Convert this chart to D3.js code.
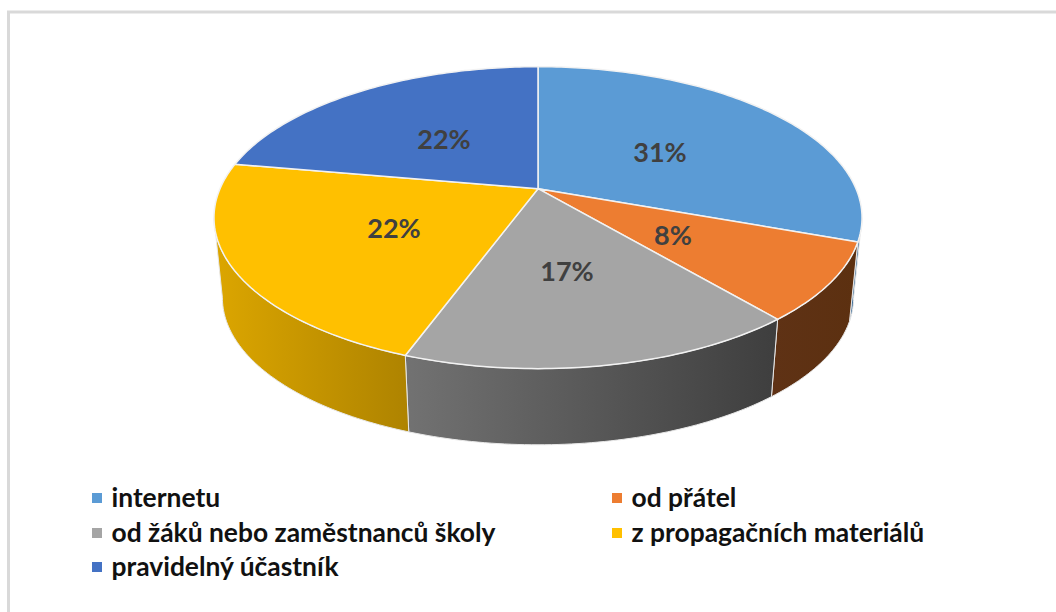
<!DOCTYPE html>
<html><head><meta charset="utf-8">
<script src="https://cdn.jsdelivr.net/npm/d3@7"></script>
<style>html,body{margin:0;padding:0;background:#fff;overflow:hidden}</style>
</head><body><svg id="c" width="1056" height="612"></svg>
<script>
const categories = ["internetu","od přátel","od žáků nebo zaměstnanců školy","z propagačních materiálů","pravidelný účastník"];
const counts = [11,3,6,8,8];
const colors = ["#5b9bd5","#ed7d31","#a5a5a5","#ffc000","#4472c4"];
const wallLeft = ["#3a6a96","#5f3215","#727272","#dca600","#2f4f88"];
const wallRight = ["#3a6a96","#5c3010","#3e3e3e","#ae8300","#2f4f88"];
const labelPos = [[660,151],[673,234],[567,270],[394,227],[444,138]];
const legendPos = [[92,497],[612,497],[92,532],[612,532],[92,566]];
const font = "Lato, Carlito, 'Open Sans', sans-serif";

const svg = d3.select("#c");
const defs = svg.append("defs");

svg.append("path").attr("d","M8.5 612V12H1056").attr("fill","none").attr("stroke","#d9d9d9").attr("stroke-width",3);

// perspective projection of a unit disc
const cx=538, cy=188.7, R=318, B=145.4, K=0.192;
const depthScale=0.974, depthY=269.5;
function topPt(a){const u=Math.sin(a),v=-Math.cos(a),d=1-K*v;return [cx+R*u/d,cy+B*v/d];}
function botPt(a){const p=topPt(a);return [cx+(p[0]-cx)*depthScale,depthY+(p[1]-cy)*depthScale];}

const pie=d3.pie().sort(null).value(d=>d);
const arcs=pie(counts);
const line=d3.line();
const STEP=Math.PI/180;
function samples(a0,a1){const n=Math.max(2,Math.ceil((a1-a0)/STEP));return d3.range(n+1).map(i=>a0+(a1-a0)*i/n);}

// walls run between the two silhouette tangents (leftmost and rightmost rim points)
const wallMin=Math.acos(-K), wallMax=2*Math.PI-Math.acos(-K);
const walls=svg.append("g");
arcs.forEach((d,i)=>{
  const a0=Math.max(d.startAngle,wallMin), a1=Math.min(d.endAngle,wallMax);
  if(a1<=a0)return;
  const s=samples(a0,a1);
  const pts=s.map(topPt).concat(s.slice().reverse().map(botPt));
  const xs=pts.map(p=>p[0]);
  const id="w"+i;
  const g=defs.append("linearGradient").attr("id",id).attr("gradientUnits","userSpaceOnUse")
    .attr("x1",d3.min(xs)).attr("x2",d3.max(xs)).attr("y1",0).attr("y2",0);
  g.append("stop").attr("offset",0).attr("stop-color",wallLeft[i]);
  g.append("stop").attr("offset",1).attr("stop-color",wallRight[i]);
  walls.append("path").attr("d",line(pts)+"Z").attr("fill",`url(#${id})`)
    .attr("stroke","#e8e8e8").attr("stroke-width",1).attr("stroke-linejoin","round");
});

// top faces
const faces=svg.append("g");
arcs.forEach((d,i)=>{
  const pts=[[cx,cy]].concat(samples(d.startAngle,d.endAngle).map(topPt));
  faces.append("path").attr("d",line(pts)+"Z").attr("fill",colors[i])
    .attr("stroke","#f2f2f2").attr("stroke-width",1.5).attr("stroke-linejoin","round");
});

// data labels
svg.append("g").selectAll("text").data(arcs).join("text")
  .attr("x",(d,i)=>labelPos[i][0]).attr("y",(d,i)=>labelPos[i][1])
  .attr("text-anchor","middle").attr("dominant-baseline","central")
  .attr("font-family",font).attr("font-weight",700).attr("font-size",27).attr("fill","#404040")
  .text(d=>Math.round(d.value/d3.sum(counts)*100)+"%");

// legend
const lg=svg.append("g").selectAll("g").data(categories).join("g")
  .attr("transform",(d,i)=>`translate(${legendPos[i][0]},${legendPos[i][1]})`);
lg.append("rect").attr("x",0).attr("y",-4).attr("width",10).attr("height",10).attr("fill",(d,i)=>colors[i]);
lg.append("text").attr("x",19.5).attr("y",0).attr("dominant-baseline","central")
  .attr("font-family",font).attr("font-weight",700).attr("font-size",26.4).attr("fill","#111")
  .text(d=>d);
</script></body></html>
